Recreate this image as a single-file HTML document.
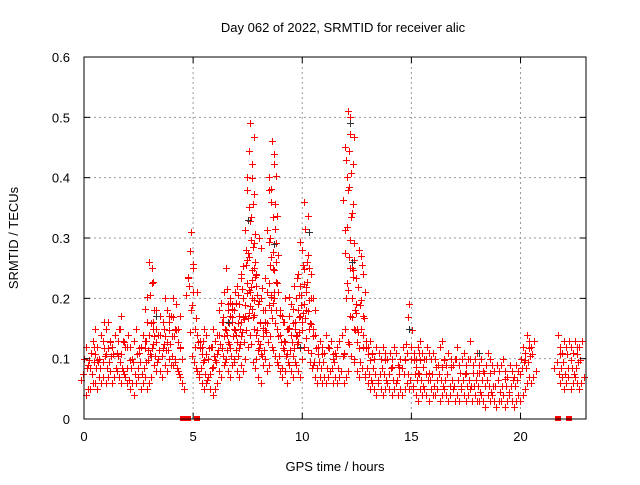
<!DOCTYPE html>
<html><head><meta charset="utf-8"><style>
body{margin:0;background:#fff}
svg text{font-family:"Liberation Sans",sans-serif;font-size:13px;fill:#000}
</style></head><body>
<svg id="c" width="640" height="480">
<text x="343" y="32" text-anchor="middle">Day 062 of 2022, SRMTID for receiver alic</text>
<text x="0" y="0" transform="translate(18,238) rotate(-90)" text-anchor="middle">SRMTID / TECUs</text>
<text x="335" y="471" text-anchor="middle">GPS time / hours</text>
<g id="grid"></g><g id="marks"></g>
<rect x="84" y="57" width="502" height="362" fill="none" stroke="#000"/>
<g id="axes"></g>
</svg>
<script>
const xTicks=[0,5,10,15,20];
const yTicks=[0,0.1,0.2,0.3,0.4,0.5,0.6];
const yTickLabels=["0","0.1","0.2","0.3","0.4","0.5","0.6"];
const tStep=0.1;
const hiVals=[.10,.12,.09,.11,.13,.15,.12,.10,.14,.16,
.15,.16,.13,.12,.14,.11,.15,.17,.13,.12,
.14,.12,.10,.13,.15,.11,.12,.14,.13,.16,
.26,.25,.18,.15,.14,.17,.16,.20,.18,.16,
.17,.20,.19,.15,.12,.10,null,null,.22,.31,
.25,.15,.14,.13,.12,.15,.14,.10,.12,.15,
.13,.14,.18,.16,.21,.25,.18,.20,.19,.21,
.22,.19,.24,.20,.28,.33,.49,.40,.25,.22,
.30,.20,.18,.16,.21,.30,.46,.44,.26,.21,
.18,.16,.20,.15,.17,.19,.22,.20,.24,.22,
.28,.36,.26,.25,.20,.15,.14,.12,.13,.12,
.11,.14,.12,.13,.10,.11,.12,.13,.14,.11,
.20,.51,.50,.25,.18,.15,.28,.27,.17,.13,
.12,.13,.11,.10,.12,.11,.10,.12,.11,.10,
.11,.10,.12,.11,.09,.10,.12,.10,.11,.19,
.12,.11,.10,.12,.13,.11,.10,.12,.11,.10,
.11,.10,.09,.12,.13,.10,.09,.11,.10,.09,
.10,.12,.09,.10,.11,.09,.10,.13,.09,.10,
.11,.09,.10,.08,.09,.11,.10,.09,.08,.09,
.08,.09,.10,.08,.07,.09,.08,.07,.09,.08,
.10,.12,.11,.14,.13,.12,.13,null,null,null,
null,null,null,null,null,null,null,.14,.12,.11,
.13,.12,.13,.12,.11,.13,.12,.12,.13];
const loVals=[.04,.05,.05,.06,.06,.05,.07,.06,.07,.06,
.07,.08,.06,.07,.08,.07,.06,.08,.07,.06,
.05,.06,.04,.06,.07,.05,.06,.07,.05,.06,
.07,.09,.08,.10,.08,.07,.09,.08,.10,.09,
.09,.10,.08,.07,.06,.05,null,null,.18,.21,
.12,.08,.07,.06,.05,.06,.07,.05,.04,.05,
.06,.08,.07,.09,.10,.08,.07,.09,.10,.08,
.07,.09,.08,.10,.12,.14,.20,.15,.10,.07,
.06,.09,.10,.08,.09,.12,.20,.18,.09,.08,
.07,.08,.06,.09,.08,.07,.09,.08,.07,.10,
.12,.18,.15,.11,.09,.07,.06,.07,.06,.07,
.06,.07,.08,.06,.07,.06,.07,.08,.06,.07,
.08,.25,.20,.10,.08,.07,.15,.12,.07,.06,
.05,.06,.05,.04,.06,.05,.04,.05,.06,.05,
.04,.05,.06,.04,.05,.04,.05,.06,.05,.10,
.05,.04,.03,.05,.04,.05,.04,.03,.05,.04,
.04,.05,.03,.04,.05,.04,.03,.04,.05,.03,
.04,.03,.05,.04,.03,.04,.05,.03,.04,.03,
.03,.04,.03,.02,.04,.03,.04,.03,.02,.03,
.03,.04,.02,.03,.04,.03,.02,.03,.04,.03,
.04,.05,.06,.07,.06,.07,.08,null,null,null,
null,null,null,null,null,null,null,.06,.07,.05,
.06,.07,.05,.06,.07,.06,.05,.06,.07];
const blackT=[7.5,12.2,10.3,8.7,14.9,12.3,3.3,9.9,18.1,6.6];
const blackV=[0.33,0.49,0.31,0.29,0.15,0.26,0.17,0.12,0.11,0.16];
const gapT=[4.55,4.65,4.75,5.2,21.7,22.2];
const NS="http://www.w3.org/2000/svg";
const X=t=>84+t*(502/23), Y=v=>419-v*(362/0.6);
function mk(tag,at,parent){const e=document.createElementNS(NS,tag);for(const k in at)e.setAttribute(k,at[k]);parent.appendChild(e);return e;}
const grid=document.getElementById('grid'),axes=document.getElementById('axes'),marks=document.getElementById('marks');
xTicks.forEach(t=>{const x=X(t);
 if(t>0){const g=mk('line',{x1:x,x2:x,y1:57,y2:419,stroke:'#999','stroke-dasharray':'2,3'},grid);
 
 }
 mk('line',{x1:x,x2:x,y1:419,y2:413,stroke:'#000'},axes);mk('line',{x1:x,x2:x,y1:57,y2:63,stroke:'#000'},axes);
 const l=mk('text',{x:x,y:441,'text-anchor':'middle'},axes);l.textContent=t;
 
 });
yTicks.forEach((v,i)=>{const y=Y(v);
 if(v>0){const g=mk('line',{x1:84,x2:586,y1:y,y2:y,stroke:'#999','stroke-dasharray':'2,3'},grid);
 
 }
 mk('line',{x1:84,x2:90,y1:y,y2:y,stroke:'#000'},axes);mk('line',{x1:580,x2:586,y1:y,y2:y,stroke:'#000'},axes);
 const l=mk('text',{x:70,y:y+5,'text-anchor':'end'},axes);l.textContent=yTickLabels[i];
 
 });
function plus(t,v,col,dx){const x=Math.round(X(t)+dx),y=Math.round(Y(v));
 const p=mk('path',{d:`M${x-3} ${y}h7v1h-7zM${x} ${y-3}h1v7h-1z`,fill:col},marks);
 
 }
const offs=[-4,3,-1,5,-6,1,4,-3];
hiVals.forEach((h,i)=>{const lo=loVals[i];if(h==null||lo==null)return;const t=i*tStep;
 plus(t,h,'#ff0000',0);plus(t,lo,'#ff0000',2);
 let k=0;for(let v=lo+0.025;v<h-0.015;v+=0.022){plus(t,v,'#ff0000',offs[k%8]*0.8);k++;}});
blackT.forEach((t,i)=>plus(t,blackV[i],'#333',0));
gapT.forEach(t=>{const r=mk('rect',{x:Math.round(X(t))-3,y:416,width:6,height:5,fill:'#f00'},marks);
 
 });
</script>
</body></html>
